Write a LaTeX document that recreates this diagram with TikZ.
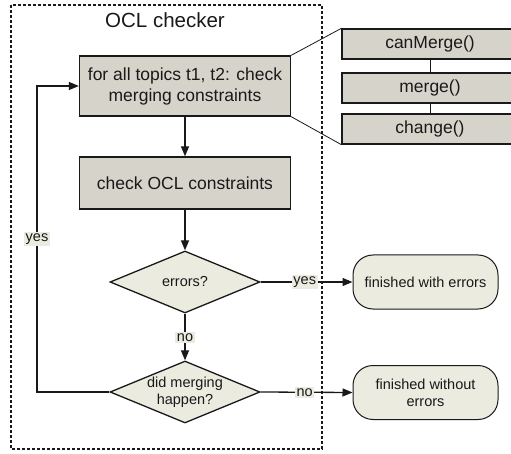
\documentclass[tikz,border=0pt]{standalone}
\usepackage{fontspec}
\setmainfont{Liberation Sans}
\usetikzlibrary{shapes.geometric,arrows.meta}
\definecolor{boxfill}{RGB}{214,212,202}
\definecolor{softfill}{RGB}{235,235,224}
\definecolor{ink}{RGB}{25,25,25}
\tikzset{
  procbox/.style={draw=ink, line width=1.3pt, fill=boxfill, inner sep=0pt, align=center,
    font=\fontsize{17.5}{21}\selectfont, text=ink},
  methbox/.style={procbox, minimum width=176pt, minimum height=30pt},
  decision/.style={diamond, draw=ink, line width=1.3pt, fill=softfill, inner sep=0pt,
    minimum width=150pt, minimum height=62pt},
  dectext/.style={align=center, font=\fontsize{14.5}{17}\selectfont, text=ink},
  terminal/.style={draw=ink, line width=1pt, fill=softfill, rounded corners=20pt, inner sep=0pt,
    minimum width=145pt, minimum height=54pt, align=center, font=\fontsize{14.5}{17}\selectfont, text=ink},
  flow/.style={draw=ink, line width=1.3pt, -{Triangle[length=10pt,width=8pt]}},
  plain/.style={draw=ink, line width=1.3pt},
  thin/.style={draw=ink, line width=0.8pt},
  lbl/.style={fill=softfill, inner sep=1.5pt, font=\fontsize{14.5}{17}\selectfont, text=ink},
  region/.style={draw=ink, line width=1.2pt, dash pattern=on 3pt off 2pt}
}
\begin{document}
\begin{tikzpicture}[x=1pt,y=-1pt]
\useasboundingbox (0,0) rectangle (511,454);
\draw[region] (11,5) rectangle (322,449);
\node[font=\fontsize{20.5}{24}\selectfont, text=ink] (title) at (165,20) {OCL checker};

\node[procbox, minimum width=211pt, minimum height=60pt] (b1) at (185,86) {for all topics t1, t2: check\\merging constraints};
\node[procbox, minimum width=211pt, minimum height=52pt] (b2) at (185,183) {check OCL constraints};

\node[methbox] (m1) at (430,44) {canMerge()};
\node[methbox] (m2) at (430,88) {merge()};
\node[methbox] (m3) at (430,129) {change()};

\node[decision, label={[dectext]center:errors?}] (d1) at (185,282) {};
\node[decision, label={[dectext]center:did merging\\happen?}] (d2) at (185,392) {};

\node[terminal] (t1) at (425.5,282) {finished with errors};
\node[terminal] (t2) at (425.5,392.5) {finished without\\errors};

\coordinate (lb) at (37,392);
\coordinate (lt) at (37,86);

\draw[thin] (b1.north east) -- (m1.north west);
\draw[thin] (b1.south east) -- (m3.south west);
\draw[thin] (m1.south) -- (m2.north);
\draw[thin] (m2.south) -- (m3.north);

\draw[flow] (b1) -- (b2);
\draw[flow] (b2) -- (d1);
\draw[flow] (d1) -- node[lbl, pos=0.52] {no} (d2);
\draw[flow] (d1.east) -- node[lbl, pos=0.48] {yes} (t1.west);
\draw[flow] (d2.east) -- node[lbl, pos=0.48] {no} (t2.west);
\draw[flow] (d2.west) -- (lb) -- node[lbl, pos=0.5] {yes} (lt) -- (b1.west);
\end{tikzpicture}
\end{document}
